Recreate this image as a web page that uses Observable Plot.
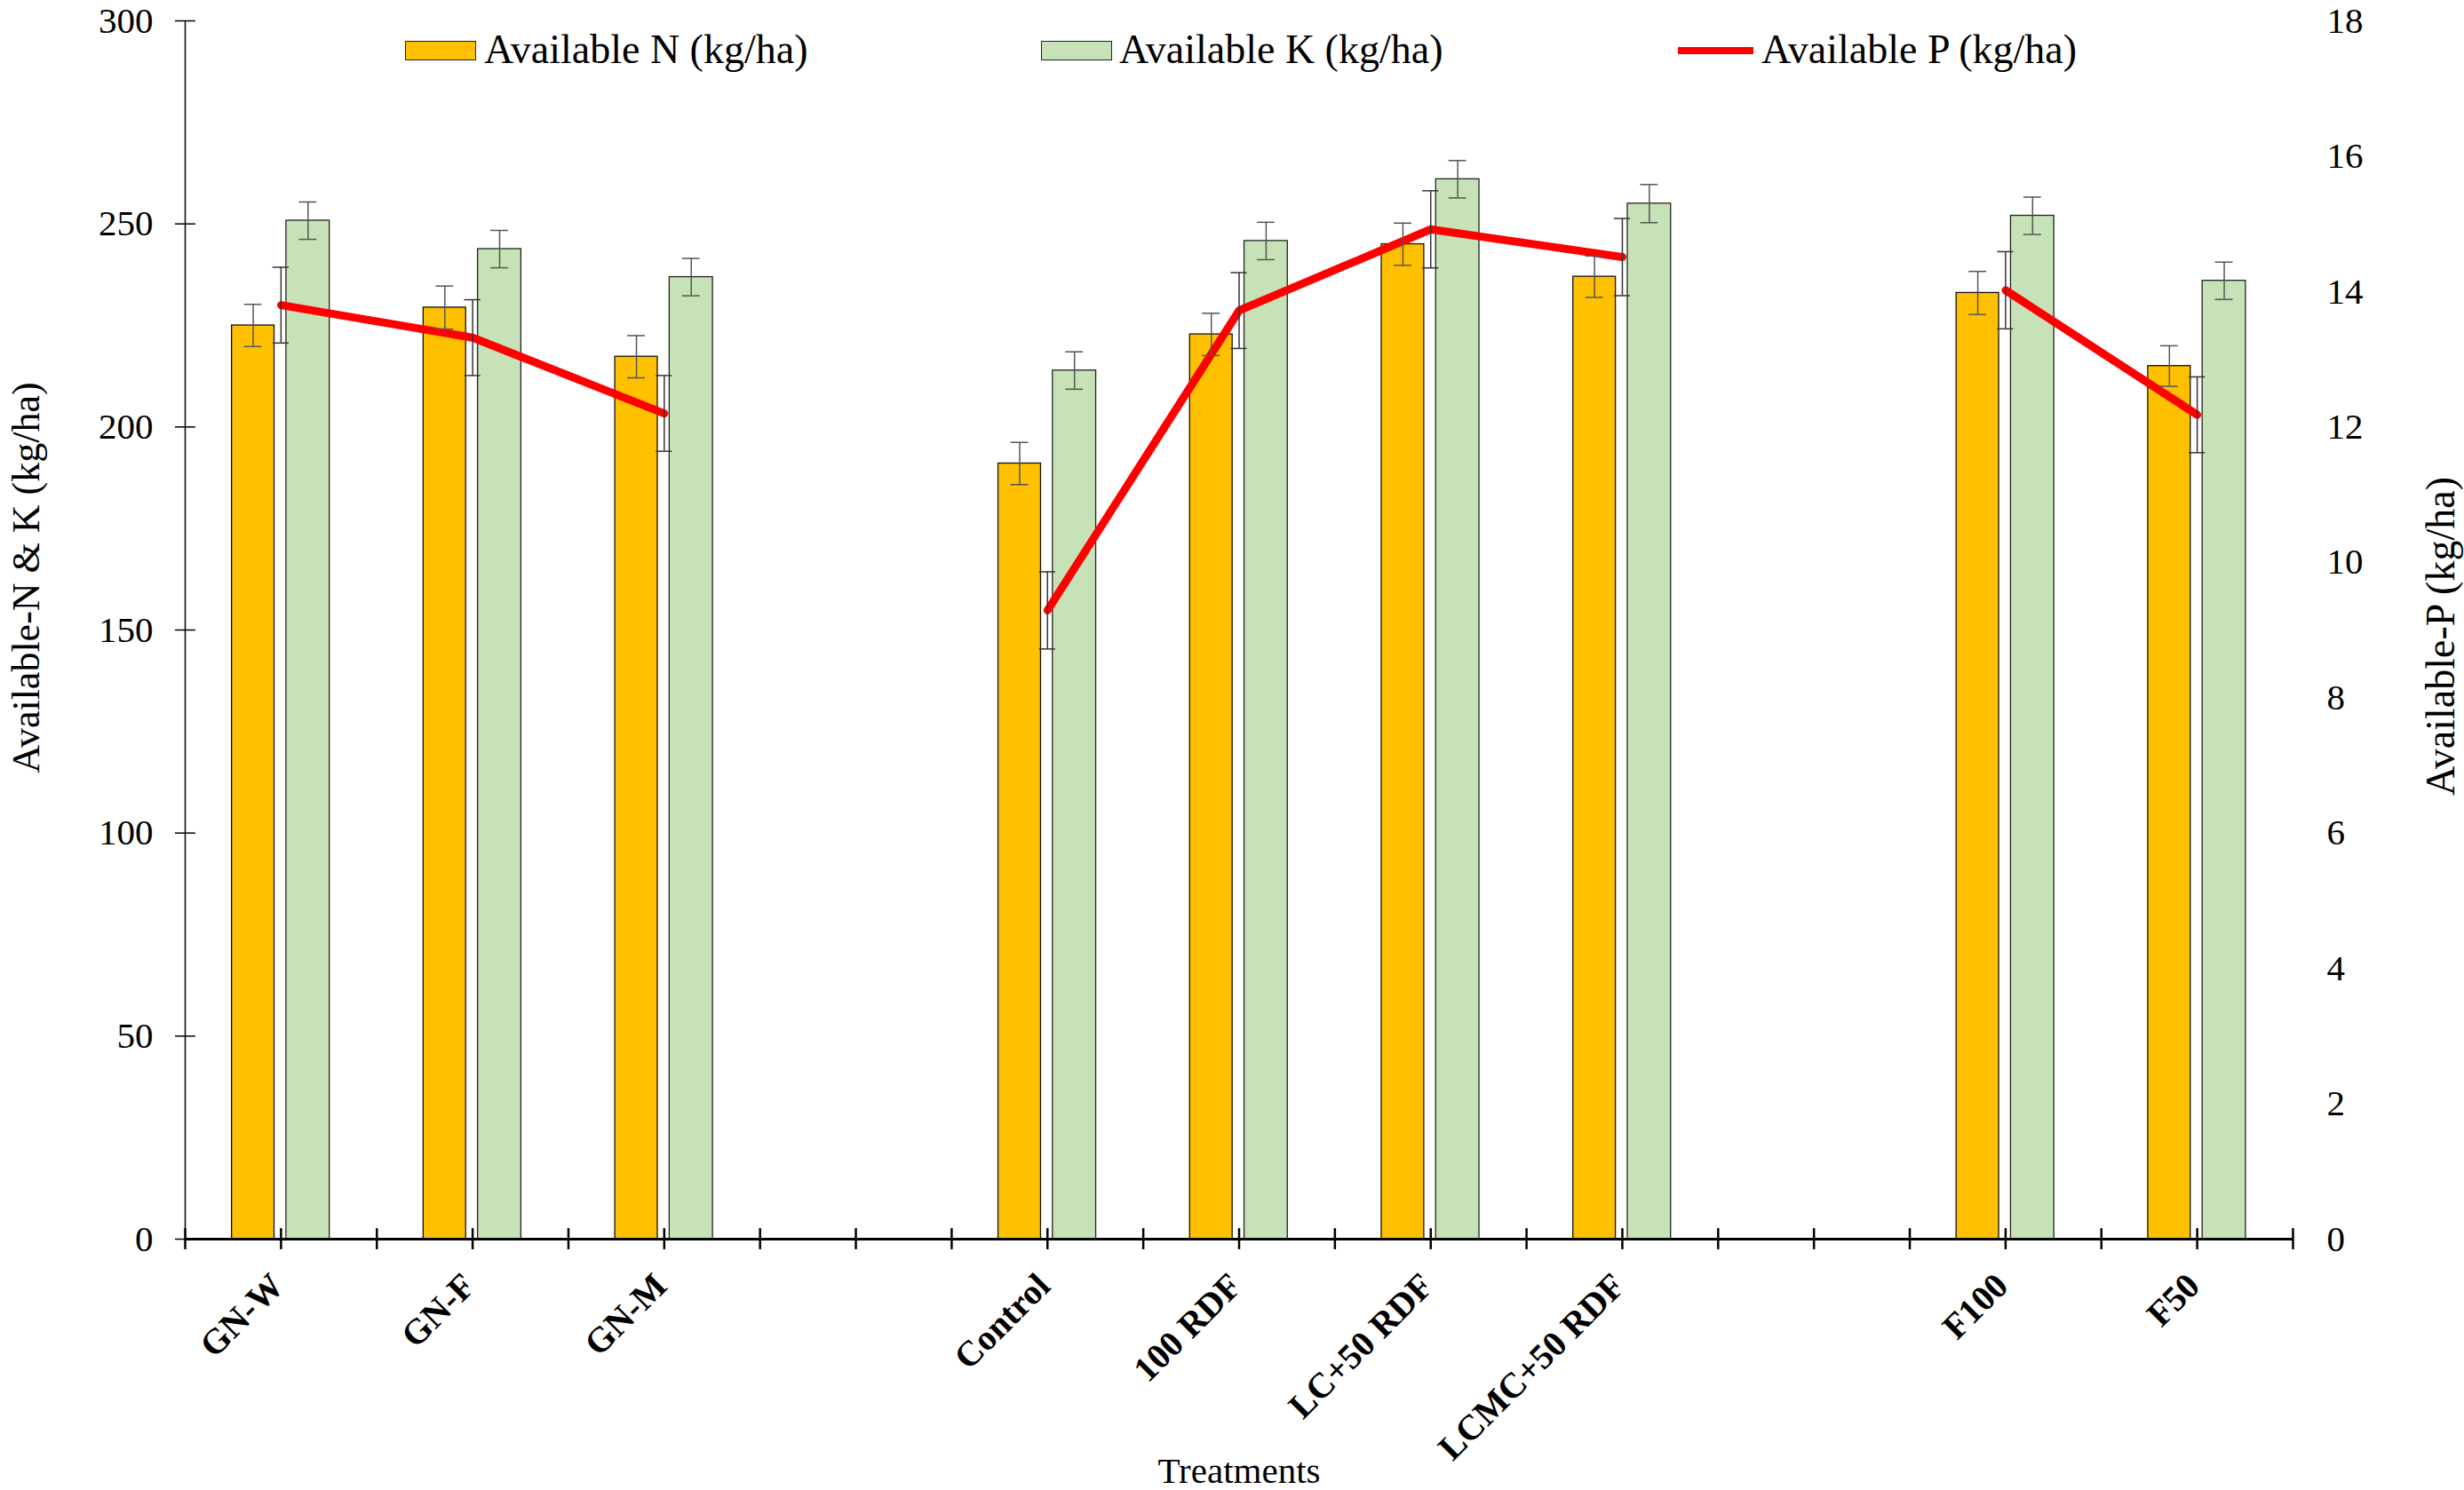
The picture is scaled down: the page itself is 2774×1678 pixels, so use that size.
<!DOCTYPE html>
<html>
<head>
<meta charset="utf-8">
<script src="https://cdn.jsdelivr.net/npm/d3@7"></script>
<script src="https://cdn.jsdelivr.net/npm/@observablehq/plot@0.6"></script>
<style>
  html, body { margin: 0; padding: 0; background: #fff; }
  #wrap { position: relative; width: 2774px; height: 1678px; font-family: "Liberation Serif", "Times New Roman", serif; }
  .leg { position: absolute; font-size: 46px; line-height: 46px; color: #000; white-space: nowrap; }
  .sw { position: absolute; box-sizing: border-box; border: 1.5px solid #222; }
  .ln { position: absolute; background: #ff0000; }
</style>
</head>
<body>
<div id="wrap"></div>
<script>
// ---- data ----
const categories = ["GN-W", "GN-F", "GN-M", "", "Control", "100 RDF", "LC+50 RDF", "LCMC+50 RDF", "", "F100", "F50"];
const availableN = [225, 229.4, 217.3, null, 191, 222.8, 245, 237, null, 233, 215];
const errN       = [5.2, 5.3, 5.2, null, 5.2, 5.2, 5.2, 5.1, null, 5.3, 5.0];
const availableK = [250.8, 243.8, 236.9, null, 213.9, 245.8, 261, 255, null, 252, 236];
const errK       = [4.6, 4.6, 4.6, null, 4.6, 4.6, 4.6, 4.7, null, 4.6, 4.6];
const availableP = [13.8, 13.32, 12.2, null, 9.29, 13.72, 14.92, 14.51, null, 14.02, 12.18];
const errP       = [0.56, 0.56, 0.56, null, 0.57, 0.56, 0.57, 0.57, null, 0.57, 0.56];
const leftTicks  = [0, 50, 100, 150, 200, 250, 300];
const rightTicks = [0, 2, 4, 6, 8, 10, 12, 14, 16, 18];
const legendLabels = ["Available N (kg/ha)", "Available K (kg/ha)", "Available P (kg/ha)"];
const xTitle = "Treatments";
const yLeftTitle = "Available-N & K (kg/ha)";
const yRightTitle = "Available-P (kg/ha)";

const pMax = 18, leftMax = 300;
const toLeft = p => p * leftMax / pMax;

const rows = categories.map((c, i) => ({
  i, cat: c, N: availableN[i], eN: errN[i], K: availableK[i], eK: errK[i], P: availableP[i], eP: errP[i]
}));
const filled = rows.filter(d => d.N != null);
const cx = d => d.i + 0.5;
const nC = d => cx(d) - 0.145, kC = d => cx(d) + 0.141;
const cap = 0.046;
const halfTicks = d3.range(0, categories.length + 0.01, 0.5);

const errColor = "#555";
const font = "Liberation Serif";

const chart = Plot.plot({
  width: 2774,
  height: 1678,
  marginLeft: 208,
  marginRight: 193,
  marginTop: 23,
  marginBottom: 283,
  x: {domain: [0, categories.length], axis: null},
  y: {domain: [0, leftMax], axis: null},
  style: {fontFamily: font, background: "white", color: "black", overflow: "visible"},
  marks: [
    // bars
    Plot.rectY(filled, {x1: d => cx(d) - 0.256, x2: d => cx(d) - 0.034, y1: 0, y2: "N", fill: "#FFC000", stroke: "#111", strokeWidth: 1.3}),
    Plot.rectY(filled, {x1: d => cx(d) + 0.028, x2: d => cx(d) + 0.254, y1: 0, y2: "K", fill: "#C7E2B6", stroke: "#222", strokeWidth: 1.3}),
    // P line
    Plot.line(rows, {x: cx, y: d => d.P == null ? NaN : toLeft(d.P), stroke: "#FF0000", strokeWidth: 9, strokeLinecap: "round", strokeLinejoin: "round"}),
    // error bars N
    Plot.ruleX(filled, {x: nC, y1: d => d.N - d.eN, y2: d => d.N + d.eN, stroke: errColor, strokeWidth: 1.5}),
    Plot.ruleY(filled, {y: d => d.N + d.eN, x1: d => nC(d) - cap, x2: d => nC(d) + cap, stroke: errColor, strokeWidth: 1.5}),
    Plot.ruleY(filled, {y: d => d.N - d.eN, x1: d => nC(d) - cap, x2: d => nC(d) + cap, stroke: errColor, strokeWidth: 1.5}),
    // error bars K
    Plot.ruleX(filled, {x: kC, y1: d => d.K - d.eK, y2: d => d.K + d.eK, stroke: errColor, strokeWidth: 1.5}),
    Plot.ruleY(filled, {y: d => d.K + d.eK, x1: d => kC(d) - cap, x2: d => kC(d) + cap, stroke: errColor, strokeWidth: 1.5}),
    Plot.ruleY(filled, {y: d => d.K - d.eK, x1: d => kC(d) - cap, x2: d => kC(d) + cap, stroke: errColor, strokeWidth: 1.5}),
    // error bars P
    Plot.ruleX(filled, {x: cx, y1: d => toLeft(d.P - d.eP), y2: d => toLeft(d.P + d.eP), stroke: "#333", strokeWidth: 1.5}),
    Plot.ruleY(filled, {y: d => toLeft(d.P + d.eP), x1: d => cx(d) - 0.042, x2: d => cx(d) + 0.042, stroke: "#333", strokeWidth: 1.5}),
    Plot.ruleY(filled, {y: d => toLeft(d.P - d.eP), x1: d => cx(d) - 0.042, x2: d => cx(d) + 0.042, stroke: "#333", strokeWidth: 1.5}),
    // left axis line & ticks
    Plot.ruleX([0], {y1: 0, y2: leftMax, stroke: "#000", strokeWidth: 1.5}),
    Plot.ruleY(leftTicks, {y: d => d, x1: -0.051, x2: 0.055, stroke: "#000", strokeWidth: 1.5}),
    // x axis line & ticks
    Plot.ruleY([0], {x1: 0, x2: categories.length, stroke: "#000", strokeWidth: 3}),
    Plot.ruleX(halfTicks, {x: d => d, y1: -2.6, y2: 2.6, stroke: "#000", strokeWidth: 2.5}),
    // axis labels
    Plot.axisY({anchor: "left", ticks: leftTicks, tickSize: 0, tickPadding: 36, fontSize: 41, label: null}),
    Plot.axisY({anchor: "right", ticks: rightTicks.map(toLeft), tickFormat: d => String(Math.round(d * pMax / leftMax)), tickSize: 0, tickPadding: 38, fontSize: 41, label: null}),
    Plot.text(filled, {x: cx, y: 0, text: "cat", rotate: -45, textAnchor: "end", lineAnchor: "middle", dx: -4, dy: 46, fontWeight: "bold", fontSize: 40}),
    // titles
    Plot.text([xTitle], {frameAnchor: "bottom", textAnchor: "middle", dy: 261, fontSize: 41, lineAnchor: "middle"}),
    Plot.text([yLeftTitle], {frameAnchor: "left", textAnchor: "middle", dx: -179, dy: -59, rotate: -90, fontSize: 44, lineAnchor: "middle"}),
    Plot.text([yRightTitle], {frameAnchor: "right", textAnchor: "middle", dx: 167, dy: 7, rotate: -90, fontSize: 46, lineAnchor: "middle"})
  ]
});

const wrap = document.getElementById("wrap");
wrap.appendChild(chart);

// legend (overlaid on the top of the plot area, as in the reference)
function addSwatch(left, top, w, h, color) {
  const s = document.createElement("div");
  s.className = "sw";
  Object.assign(s.style, {left: left + "px", top: top + "px", width: w + "px", height: h + "px", background: color});
  wrap.appendChild(s);
}
function addLabel(left, text) {
  const t = document.createElement("div");
  t.className = "leg";
  t.textContent = text;
  Object.assign(t.style, {left: left + "px", top: "33px"});
  wrap.appendChild(t);
}
addSwatch(456, 46, 80, 22, "#FFC000");
addLabel(545, legendLabels[0]);
addSwatch(1172, 46, 80, 22, "#C7E2B6");
addLabel(1260, legendLabels[1]);
const ln = document.createElement("div");
ln.className = "ln";
Object.assign(ln.style, {left: "1889px", top: "53px", width: "85px", height: "8px"});
wrap.appendChild(ln);
addLabel(1983, legendLabels[2]);
</script>
</body>
</html>
